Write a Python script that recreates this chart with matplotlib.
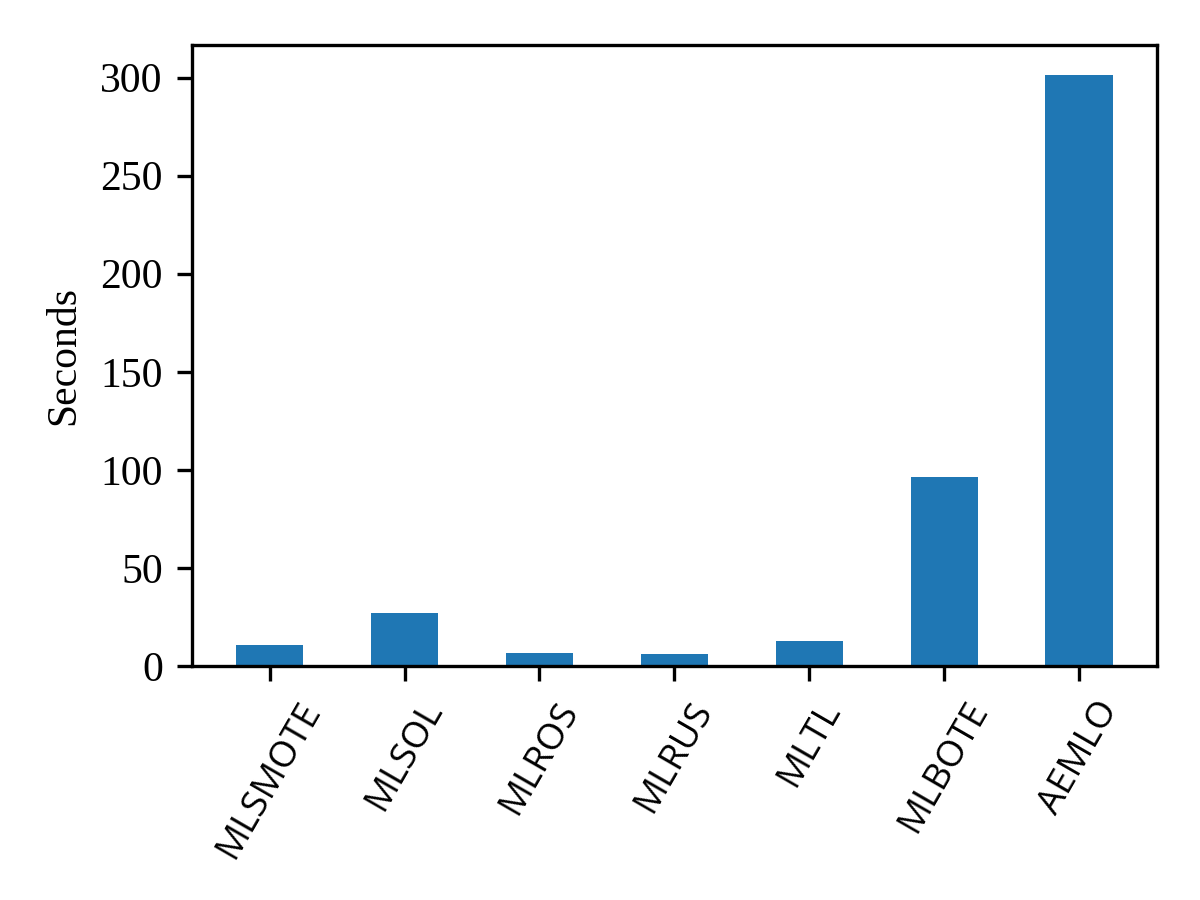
import numpy as np
import matplotlib
matplotlib.use("Agg")
import matplotlib.pyplot as plt

methods = ["MLSMOTE", "MLSOL", "MLROS", "MLRUS", "MLTL", "MLBOTE", "AEMLO"]
seconds = [10.7, 27.0, 6.6, 6.1, 12.8, 96.4, 301.5]

plt.rcParams['font.family'] = ['Liberation Serif', 'DejaVu Serif']
plt.rcParams['font.size'] = 10

fig, ax = plt.subplots(figsize=(4, 3), dpi=300)
x = np.arange(len(methods))
ax.bar(x, seconds, width=0.5, color="#1f77b4")
ax.set_xticks(x)
ax.set_xticklabels(methods, rotation=60, family=['Open Sans', 'DejaVu Sans'], fontsize=8.8)
ax.set_ylabel("Seconds")
fig.subplots_adjust(left=0.16, right=0.964, top=0.95, bottom=0.26)
fig.savefig("out.png")
